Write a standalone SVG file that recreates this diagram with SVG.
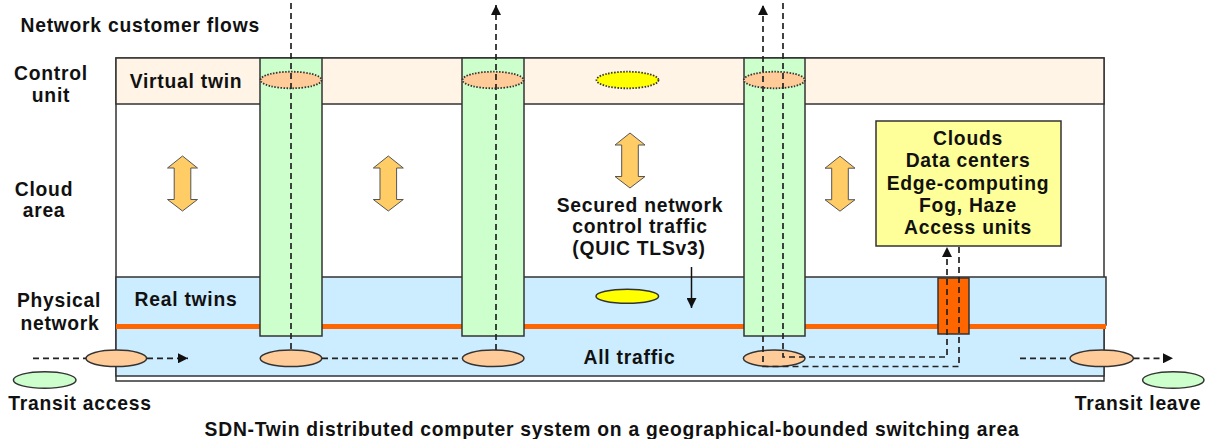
<svg xmlns="http://www.w3.org/2000/svg" width="1205" height="439" viewBox="0 0 1205 439">
<style>
text{font-family:"Liberation Sans",Arial,sans-serif;font-weight:bold;font-size:19.3px;fill:#111;letter-spacing:0.75px}
.c{text-anchor:middle}
.band{stroke:#333;stroke-width:1.5}
.col{fill:#CCFFCC;stroke:#333;stroke-width:1.5}
.peachDot{fill:#FFCC99;stroke:#333;stroke-width:1.8;stroke-dasharray:1.5,1.5}
.peach{fill:#FFCC99;stroke:#333;stroke-width:1.5}
.green{fill:#CCFFCC;stroke:#333;stroke-width:1.5}
.dash{fill:none;stroke:#222;stroke-width:1.7;stroke-dasharray:6,4}
.dbl{fill:#FFCC66;stroke:#555;stroke-width:1}
</style>
<defs>
<marker id="ah" viewBox="0 0 10 10" refX="10" refY="5" markerWidth="10" markerHeight="10" markerUnits="userSpaceOnUse" orient="auto">
<path d="M0,0 L10,5 L0,10 Z" fill="#111"/>
</marker>
<path id="dblarrow" d="M0,-27.5 L15,-15.5 L8.3,-15.5 L8.3,16 L15,16 L0,27.5 L-15,16 L-8.3,16 L-8.3,-15.5 L-15,-15.5 Z"/>
</defs>
<g id="frame">
<rect x="116" y="58" width="988" height="323" fill="#fff" class="band"/>
<rect x="116" y="326" width="988" height="50" fill="#CCECFF" class="band"/>
<rect x="116" y="277" width="990" height="48" fill="#CCECFF" class="band"/>
<rect x="116" y="324" width="990" height="5" fill="#FF6600"/>
<rect x="116" y="58" width="988" height="46" fill="#FFF4E5" class="band"/>
</g>
<g id="columns">
<rect x="260" y="58" width="62" height="278" class="col"/>
<rect x="462" y="58" width="62" height="278" class="col"/>
<rect x="744" y="58" width="61" height="278" class="col"/>
<rect x="938" y="278" width="31" height="56" fill="#FF6600" stroke="#333" stroke-width="1.5"/>
</g>
<g id="virtual-twins">
<ellipse cx="291" cy="80" rx="30.5" ry="8.3" class="peachDot"/>
<ellipse cx="493" cy="80" rx="30.5" ry="8.3" class="peachDot"/>
<ellipse cx="627.5" cy="80" rx="31" ry="8.3" fill="#FFFF00" stroke="#333" stroke-width="1.8" stroke-dasharray="1.5,1.5"/>
<ellipse cx="774.3" cy="80" rx="30.5" ry="8.3" class="peachDot"/>
</g>
<g id="real-twin">
<ellipse cx="627.3" cy="296.3" rx="31.3" ry="7" fill="#FFFF00" stroke="#333" stroke-width="1.5"/>
</g>
<g id="clouds-box">
<rect x="876" y="121" width="185" height="125" fill="#FFFF99" stroke="#333" stroke-width="1.5"/>
<text x="968" y="145" class="c">Clouds</text>
<text x="968" y="167" class="c">Data centers</text>
<text x="968" y="190" class="c">Edge-computing</text>
<text x="968" y="212" class="c">Fog, Haze</text>
<text x="968" y="234" class="c">Access units</text>
</g>
<g id="control-arrows">
<use href="#dblarrow" x="182.5" y="183.5" class="dbl"/>
<use href="#dblarrow" x="388.3" y="183.5" class="dbl"/>
<use href="#dblarrow" x="630" y="160.5" class="dbl"/>
<use href="#dblarrow" x="840" y="183.7" class="dbl"/>
</g>
<g id="traffic-nodes">
<ellipse cx="116.3" cy="358.3" rx="30.3" ry="8.3" class="peach"/>
<ellipse cx="291" cy="358.3" rx="30.8" ry="8.3" class="peach"/>
<ellipse cx="493.2" cy="358.3" rx="30.8" ry="8.3" class="peach"/>
<ellipse cx="774.2" cy="358.3" rx="30.8" ry="8.3" class="peach"/>
<ellipse cx="1101.7" cy="358.3" rx="31.7" ry="8.3" class="peach"/>
<ellipse cx="44.7" cy="380" rx="31.3" ry="8.3" class="green"/>
<ellipse cx="1173.3" cy="380" rx="30.7" ry="8.3" class="green"/>
</g>
<g id="connectors">
<path d="M33,358.3 H86" class="dash"/>
<path d="M147,358.3 H188" class="dash" marker-end="url(#ah)"/>
<path d="M291,3 V350" class="dash"/>
<path d="M322,358.3 H462" class="dash"/>
<path d="M496,350 V5" class="dash" marker-end="url(#ah)"/>
<path d="M959,247 V366.5 H763 V5" class="dash" marker-end="url(#ah)"/>
<path d="M783,3 V357 H947 V247" class="dash" marker-end="url(#ah)"/>
<path d="M1020,358.3 H1070" class="dash"/>
<path d="M1133.5,358.3 H1173" class="dash" marker-end="url(#ah)"/>
<path d="M691.5,267 V308" fill="none" stroke="#111" stroke-width="1.5" marker-end="url(#ah)"/>
</g>
<g id="labels">
<text x="20.5" y="31.5">Network customer flows</text>
<text x="51" y="80" class="c">Control</text>
<text x="51" y="101.7" class="c">unit</text>
<text x="186" y="88.3" class="c">Virtual twin</text>
<text x="44" y="195.7" class="c">Cloud</text>
<text x="44" y="216.7" class="c">area</text>
<text x="640" y="211.5" class="c">Secured network</text>
<text x="640" y="233.3" class="c">control traffic</text>
<text x="639" y="255" class="c">(QUIC TLSv3)</text>
<text x="59" y="307.3" class="c">Physical</text>
<text x="60" y="330" class="c">network</text>
<text x="186" y="306" class="c">Real twins</text>
<text x="629.5" y="364.3" class="c">All traffic</text>
<text x="80" y="410" class="c">Transit access</text>
<text x="1138" y="410" class="c">Transit leave</text>
<text x="612" y="435.5" class="c">SDN-Twin distributed computer system on a geographical-bounded switching area</text>
</g>
</svg>
